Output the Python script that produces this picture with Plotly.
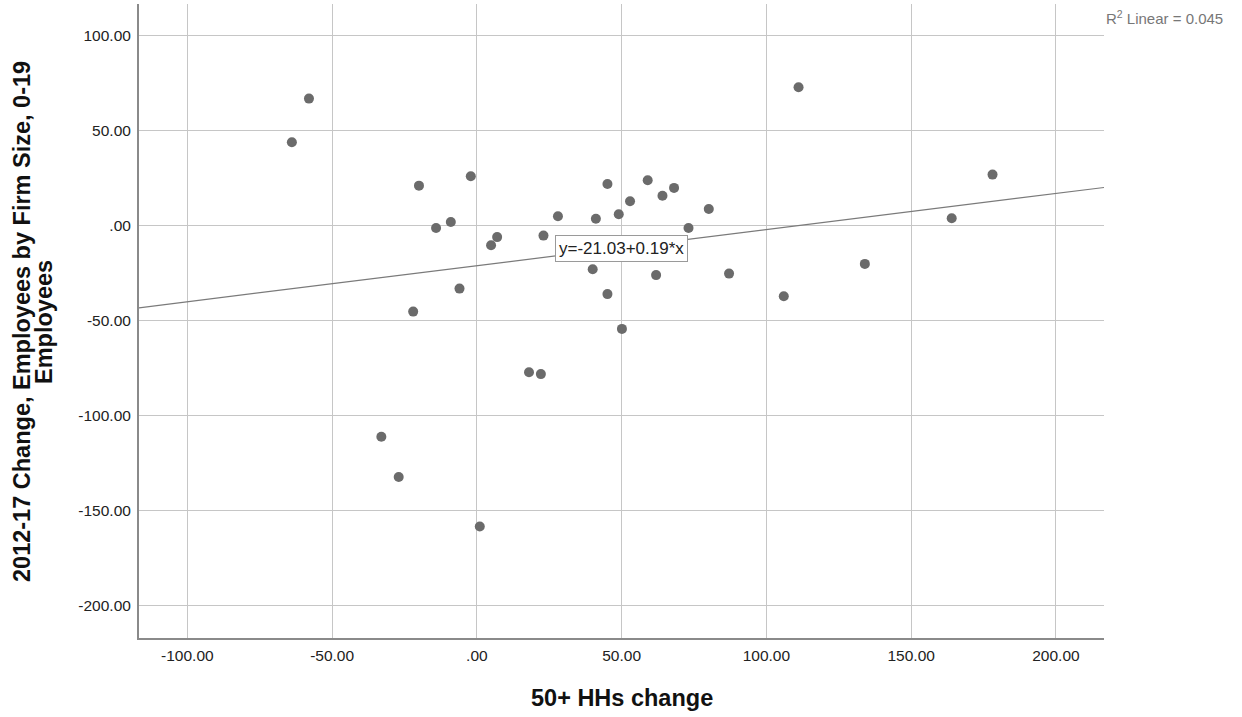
import plotly.graph_objects as go

# ---- data ----
hh_change = [-58.0, -63.9, -20.0, -2.1, -14.1, -9.0, 7.0, 4.9, 23.0, 28.0, -6.0, -22.0,
             45.1, 59.0, 52.9, 64.1, 68.1, 80.1, 41.1, 49.0, 73.1, 40.0, 61.9, 87.1,
             45.1, 50.1, 18.0, 22.1, 111.1, 178.1, 164.0, 134.0, 106.0, -33.0, -27.0, 1.0]
emp_change = [66.9, 43.9, 21.1, 26.0, -1.2, 2.0, -6.0, -10.3, -5.2, 5.0, -33.1, -45.2,
              22.0, 23.9, 12.9, 15.8, 19.9, 8.8, 3.7, 6.0, -1.2, -22.9, -26.0, -25.2,
              -36.0, -54.3, -77.1, -78.1, 72.9, 26.9, 3.9, -20.1, -37.1, -111.1, -132.3, -158.3]

fit_intercept = -21.03
fit_slope = 0.19
r2_text = "R<sup>2</sup> Linear = 0.045"
eq_text = "y=-21.03+0.19*x"

x_ticks = [-100, -50, 0, 50, 100, 150, 200]
x_tick_labels = ["-100.00", "-50.00", ".00", "50.00", "100.00", "150.00", "200.00"]
y_ticks = [-200, -150, -100, -50, 0, 50, 100]
y_tick_labels = ["-200.00", "-150.00", "-100.00", "-50.00", ".00", "50.00", "100.00"]

x_title = "50+ HHs change"
y_title_lines = ["2012-17 Change, Employees by Firm Size, 0-19", "Employees"]

x_range = [-116.7, 216.6]
y_range = [-217.0, 116.7]

FONT = "Arial, 'Liberation Sans', sans-serif"

fig = go.Figure()

# regression line over the full x range
line_x = list(x_range)
line_y = [fit_intercept + fit_slope * v for v in line_x]
fig.add_trace(go.Scatter(x=line_x, y=line_y, mode="lines",
                         line=dict(color="#7a7a7a", width=1.2),
                         hoverinfo="skip", showlegend=False))

fig.add_trace(go.Scatter(x=hh_change, y=emp_change, mode="markers",
                         marker=dict(color="#6b6b6b", size=10, line=dict(width=0)),
                         showlegend=False))

axis_common = dict(showgrid=True, gridcolor="#c6c6c6", gridwidth=1.4,
                   zeroline=False, showline=True, linecolor="#8a8a8a", linewidth=2,
                   tickfont=dict(family=FONT, size=15.5, color="#222222"),
                   ticks="outside", tickcolor="rgba(0,0,0,0)")

fig.update_xaxes(range=x_range, tickmode="array", tickvals=x_ticks, ticktext=x_tick_labels,
                 ticklen=2, **axis_common)
fig.update_yaxes(range=y_range, tickmode="array", tickvals=y_ticks, ticktext=y_tick_labels,
                 ticklen=3, **axis_common)

fig.add_annotation(x=50.0, y=-11.8, xref="x", yref="y", text=eq_text, showarrow=False,
                   font=dict(family=FONT, size=17, color="#222222"),
                   bgcolor="white", bordercolor="#9a9a9a", borderwidth=1, borderpad=3,
                   xanchor="center", yanchor="middle")

fig.add_annotation(x=1, y=1, xref="paper", yref="paper", text=r2_text, showarrow=False,
                   font=dict(family=FONT, size=15, color="#777777"),
                   xanchor="left", yanchor="top", xshift=0, yshift=-2)

fig.add_annotation(x=0.5, y=0, xref="paper", yref="paper", text="<b>" + x_title + "</b>",
                   showarrow=False,
                   font=dict(family=FONT, size=23.5, color="#111111"),
                   xanchor="center", yanchor="middle", yshift=-60)

for line_text, px_center in zip(y_title_lines, [22, 44]):
    fig.add_annotation(x=0, y=0.5, xref="paper", yref="paper", text="<b>" + line_text + "</b>",
                       showarrow=False, textangle=-90,
                       font=dict(family=FONT, size=23.5, color="#111111"),
                       xanchor="center", yanchor="middle", xshift=px_center - 139, yshift=-1)

fig.update_layout(width=1242, height=717, paper_bgcolor="white", plot_bgcolor="white",
                  margin=dict(l=139, r=138, t=4, b=79), showlegend=False)

fig.write_html("out.html", config={"displayModeBar": False},
               post_script="document.body.style.margin='0';")
